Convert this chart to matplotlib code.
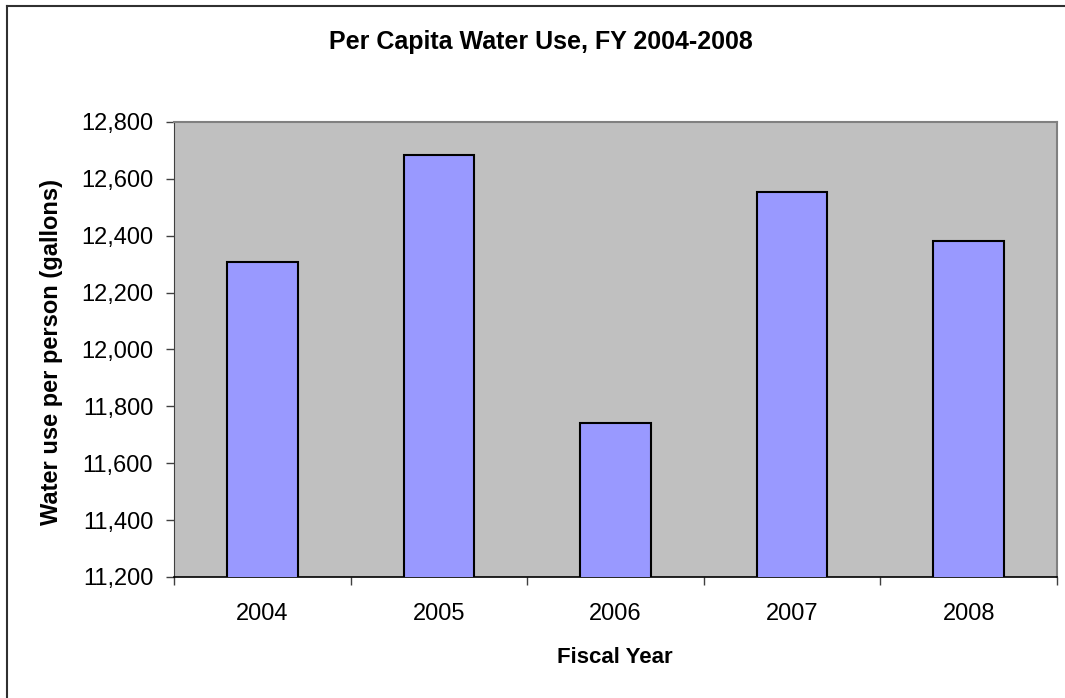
import matplotlib
matplotlib.use("Agg")
import matplotlib.pyplot as plt
from matplotlib.lines import Line2D
from matplotlib.ticker import FuncFormatter

plt.rcParams['font.family'] = ['Liberation Sans', 'DejaVu Sans']

# Per capita water use by fiscal year
years = ["2004", "2005", "2006", "2007", "2008"]
gallons = [12308, 12682, 11741, 12554, 12380]

fig = plt.figure(figsize=(10.65, 6.98), dpi=100)
ax = fig.add_axes([0.1634, 0.1734, 0.8291, 0.6519])
ax.set_facecolor("#c0c0c0")

x = range(len(years))
ax.bar(x, gallons, width=0.40, color="#9999ff",
       edgecolor="black", linewidth=1.5, zorder=3)

ax.set_ylim(11200, 12800)
ax.set_xlim(-0.5, len(years) - 0.5)
ax.set_yticks(range(11200, 12801, 200))
ax.yaxis.set_major_formatter(FuncFormatter(lambda v, p: f"{int(v):,}"))

# category labels centred, tick marks on the category boundaries
ax.set_xticks([i - 0.5 for i in range(len(years) + 1)])
ax.set_xticklabels([])
ax.set_xticks(list(x), minor=True)
ax.set_xticklabels(years, minor=True)
ax.tick_params(axis="x", which="major", direction="out", length=6, width=1, color="#404040")
ax.tick_params(axis="x", which="minor", length=0, pad=19, labelsize=17)
ax.tick_params(axis="y", direction="out", length=6, width=1, color="#404040", labelsize=17, pad=9)

for side in ("top", "right"):
    ax.spines[side].set_color("#808080")
    ax.spines[side].set_linewidth(1.5)
ax.spines["left"].set_color("#404040")
ax.spines["bottom"].set_color("black")
ax.spines["bottom"].set_linewidth(1.2)

fig.text(0.5775, 0.0587, "Fiscal Year", ha="center", va="center",
         fontsize=16, fontweight="bold")
fig.text(0.048, 0.4964, "Water use per person (gallons)", ha="center", va="center",
         rotation=90, fontsize=17, fontweight="bold")
fig.text(0.508, 0.94, "Per Capita Water Use, FY 2004-2008", ha="center", va="center",
         fontsize=18, fontweight="bold")

# chart border along the top and left edges
fig.add_artist(Line2D([0.0066, 1.0], [0.9914, 0.9914], transform=fig.transFigure,
                      color="#303030", linewidth=1.5))
fig.add_artist(Line2D([0.0066, 0.0066], [0.0, 0.9914], transform=fig.transFigure,
                      color="#303030", linewidth=1.5))

fig.savefig("out.png", dpi=100)
